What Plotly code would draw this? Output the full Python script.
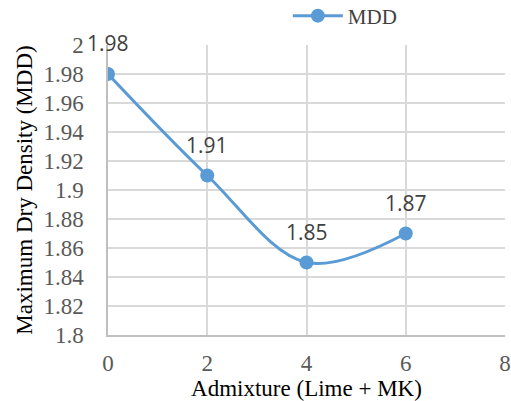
import plotly.graph_objects as go

admixture = [0, 2, 4, 6]
mdd = [1.98, 1.91, 1.85, 1.87]
labels = ["1.98", "1.91", "1.85", "1.87"]
series_name = "MDD"
x_ticks = [0, 2, 4, 6, 8]
y_ticks = [1.8, 1.82, 1.84, 1.86, 1.88, 1.9, 1.92, 1.94, 1.96, 1.98, 2.0]
y_ticktext = ["1.8", "1.82", "1.84", "1.86", "1.88", "1.9", "1.92", "1.94", "1.96", "1.98", "2"]

SERIF = "Liberation Serif"
SANS = "Open Sans"

fig = go.Figure()
fig.add_trace(go.Scatter(
    x=admixture, y=mdd, name=series_name, mode="lines+markers",
    line=dict(color="#5B9BD5", width=3, shape="spline", smoothing=1),
    marker=dict(color="#5B9BD5", size=14),
))
for xv, yv, t in zip(admixture, mdd, labels):
    fig.add_annotation(x=xv, y=yv, text=t, showarrow=False, yshift=31,
                       font=dict(family=SANS, size=21, color="#404040"))

fig.update_layout(
    width=511, height=401,
    margin=dict(l=108, r=6, t=45, b=66, autoexpand=False),
    paper_bgcolor="white", plot_bgcolor="white",
    font=dict(family=SERIF, color="#000000"),
    showlegend=True,
    legend=dict(orientation="h", x=0.453, y=1.1, xanchor="left", yanchor="middle",
                itemwidth=50,
                font=dict(family=SERIF, size=21, color="#404040"),
                bgcolor="rgba(0,0,0,0)"),
    xaxis=dict(range=[0, 8], tickvals=x_ticks, showgrid=True, gridcolor="#D9D9D9",
               gridwidth=1.5, showline=True, linecolor="#BFBFBF", linewidth=1.5, zeroline=False,
               tickfont=dict(family=SERIF, size=23, color="#595959"), ticklabelstandoff=7,
               automargin=False,
               title=dict(text="Admixture (Lime + MK)", font=dict(family=SERIF, size=23, color="#000000"), standoff=10)),
    yaxis=dict(range=[1.8, 2.0], tickvals=y_ticks, ticktext=y_ticktext,
               showgrid=True, gridcolor="#D9D9D9", gridwidth=1.5, showline=True, linecolor="#BFBFBF",
               linewidth=1.5, zeroline=False, automargin=False,
               tickfont=dict(family=SERIF, size=23, color="#595959"), ticklabelstandoff=18,
               title=dict(text="Maximum Dry Density (MDD)", font=dict(family=SERIF, size=23, color="#000000"), standoff=4)),
)
fig.write_html("out.html")
